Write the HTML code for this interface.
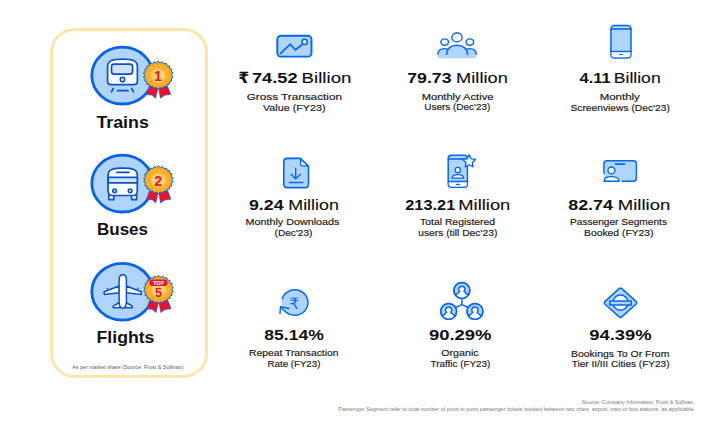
<!DOCTYPE html>
<html><head><meta charset="utf-8">
<style>
*{margin:0;padding:0}
html,body{width:719px;height:426px;background:#fff;overflow:hidden}
svg{position:absolute;left:0;top:0;display:block}
</style></head><body>
<svg width="719" height="426" viewBox="0 0 719 426">
<defs><radialGradient id="rg" cx="0.5" cy="0.5" r="0.5"><stop offset="0.55" stop-color="#ffb92c"/><stop offset="1" stop-color="#f9a213"/></radialGradient></defs>
<rect x="51.5" y="29.5" width="155" height="347" rx="23" fill="none" stroke="#fde4ad" stroke-width="3"/>
<ellipse cx="122.4" cy="75.6" rx="30.6" ry="28.4" fill="#afd5ff" stroke="#0862e8" stroke-width="2.8"/>
<ellipse cx="122.4" cy="183.6" rx="30.6" ry="28.4" fill="#afd5ff" stroke="#0862e8" stroke-width="2.8"/>
<ellipse cx="122.4" cy="291.7" rx="30.6" ry="28.4" fill="#afd5ff" stroke="#0862e8" stroke-width="2.8"/>
<g fill="none" stroke="#0a52c6" stroke-width="1.7" stroke-linecap="round" stroke-linejoin="round">
<path d="M107.6,81.6 L107.6,66.5 C107.6,60.5 113,59.1 122.5,59.1 C132,59.1 137.4,60.5 137.4,66.5 L137.4,81.6 Q137.4,84.6 134.4,84.6 L110.6,84.6 Q107.6,84.6 107.6,81.6 Z" fill="#fff"/>
<rect x="111.5" y="64.1" width="21.1" height="10.1" rx="2.6" fill="#d3e2fb"/>
<circle cx="122.5" cy="79.6" r="2.2" fill="#fff"/>
<path d="M113.3,88.4 L111.5,91.8 M117.5,90.7 L128,90.7 M131.6,88.4 L133.4,91.8"/>
</g>
<g fill="none" stroke="#0a52c6" stroke-width="1.7" stroke-linecap="round" stroke-linejoin="round">
<path d="M108.8,194.5 L113.8,194.5 L113.8,199.6 L108.8,199.6 Z M131.6,194.5 L136.6,194.5 L136.6,199.6 L131.6,199.6 Z" fill="#fff"/>
<path d="M108.1,191 L108.1,175 C108.1,169.6 113,168.1 122.7,168.1 C132.4,168.1 137.3,169.6 137.3,175 L137.3,191 C137.3,193.8 135.8,195.5 133,195.5 L112.4,195.5 C109.6,195.5 108.1,193.8 108.1,191 Z" fill="#fff"/>
<rect x="108.1" y="177.3" width="29.2" height="5.5" fill="#d3e2fb"/>
<path d="M116.8,172.4 L128.9,172.4"/>
<circle cx="114.6" cy="190.8" r="1.8" fill="#fff"/>
<circle cx="130.1" cy="190.8" r="1.8" fill="#fff"/>
</g>
<g fill="#fff" stroke="#0a52c6" stroke-width="1.5" stroke-linejoin="round">
<path d="M119.2,286 L104.2,291.8 L104.2,294.4 L119.2,292.8 Z M126.3,286 L141.3,291.8 L141.3,294.4 L126.3,292.8 Z"/>
<path d="M119.5,302.5 L113.2,306.2 L113.2,307.8 L120.5,307.8 Z M126,302.5 L132.3,306.2 L132.3,307.8 L125,307.8 Z"/>
<path d="M122.75,274.8 C125,274.8 126.4,277 126.4,280 L126.4,302 C126.4,305.5 124.5,307.8 122.75,308.6 C121,307.8 119.1,305.5 119.1,302 L119.1,280 C119.1,277 120.5,274.8 122.75,274.8 Z"/>
<path d="M107.5,289.2 L107.5,287.8 M137.9,289.2 L137.9,287.8" fill="none"/>
</g>
<path d="M149.40,85.80 L158.00,88.40 L155.60,98.30 L152.20,95.20 L146.20,94.50Z" fill="#e8132e" stroke="#0566ee" stroke-width="0.6" stroke-linejoin="round"/>
<path d="M158.60,88.40 L167.40,85.80 L170.80,94.50 L164.80,95.20 L160.40,98.30Z" fill="#e8132e" stroke="#0566ee" stroke-width="0.6" stroke-linejoin="round"/>
<path d="M158.20,61.20 L160.11,62.81 L162.43,61.76 L163.77,63.80 L166.31,63.41 L166.98,65.72 L169.54,66.00 L169.47,68.39 L171.84,69.33 L171.06,71.60 L173.05,73.12 L171.60,75.10 L173.05,77.08 L171.06,78.60 L171.84,80.87 L169.47,81.81 L169.54,84.20 L166.98,84.48 L166.31,86.79 L163.77,86.40 L162.43,88.44 L160.11,87.39 L158.20,89.00 L156.29,87.39 L153.97,88.44 L152.63,86.40 L150.09,86.79 L149.42,84.48 L146.86,84.20 L146.93,81.81 L144.56,80.87 L145.34,78.60 L143.35,77.08 L144.80,75.10 L143.35,73.12 L145.34,71.60 L144.56,69.33 L146.93,68.39 L146.86,66.00 L149.42,65.72 L150.09,63.41 L152.63,63.80 L153.97,61.76 L156.29,62.81Z" fill="url(#rg)" stroke="#0566ee" stroke-width="1.0" stroke-linejoin="round"/>
<ellipse cx="157.79999999999998" cy="75.6" rx="7.9" ry="7.8" fill="#fecd68" stroke="#f7a83c" stroke-width="1.5"/>
<path d="M163.39999999999998,69.89999999999999 A7.4,7.3 0 0 1 152.89999999999998,80.89999999999999 Z" fill="#ffd77a" opacity="0.6"/>
<text x="157.89999999999998" y="81.3" text-anchor="middle" font-family="'Liberation Sans',sans-serif" font-weight="700" font-size="14.2" fill="#db1a3a">1</text>
<path d="M149.60,190.50 L158.20,193.10 L155.80,203.00 L152.40,199.90 L146.40,199.20Z" fill="#e8132e" stroke="#0566ee" stroke-width="0.6" stroke-linejoin="round"/>
<path d="M158.80,193.10 L167.60,190.50 L171.00,199.20 L165.00,199.90 L160.60,203.00Z" fill="#e8132e" stroke="#0566ee" stroke-width="0.6" stroke-linejoin="round"/>
<path d="M158.40,165.90 L160.31,167.51 L162.63,166.46 L163.97,168.50 L166.51,168.11 L167.18,170.42 L169.74,170.70 L169.67,173.09 L172.04,174.03 L171.26,176.30 L173.25,177.82 L171.80,179.80 L173.25,181.78 L171.26,183.30 L172.04,185.57 L169.67,186.51 L169.74,188.90 L167.18,189.18 L166.51,191.49 L163.97,191.10 L162.63,193.14 L160.31,192.09 L158.40,193.70 L156.49,192.09 L154.17,193.14 L152.83,191.10 L150.29,191.49 L149.62,189.18 L147.06,188.90 L147.13,186.51 L144.76,185.57 L145.54,183.30 L143.55,181.78 L145.00,179.80 L143.55,177.82 L145.54,176.30 L144.76,174.03 L147.13,173.09 L147.06,170.70 L149.62,170.42 L150.29,168.11 L152.83,168.50 L154.17,166.46 L156.49,167.51Z" fill="url(#rg)" stroke="#0566ee" stroke-width="1.0" stroke-linejoin="round"/>
<ellipse cx="158.0" cy="180.3" rx="7.9" ry="7.8" fill="#fecd68" stroke="#f7a83c" stroke-width="1.5"/>
<path d="M163.6,174.60000000000002 A7.4,7.3 0 0 1 153.1,185.60000000000002 Z" fill="#ffd77a" opacity="0.6"/>
<text x="158.1" y="186.0" text-anchor="middle" font-family="'Liberation Sans',sans-serif" font-weight="700" font-size="14.2" fill="#db1a3a">2</text>
<path d="M149.80,300.10 L158.40,302.70 L156.00,312.60 L152.60,309.50 L146.60,308.80Z" fill="#e8132e" stroke="#0566ee" stroke-width="0.6" stroke-linejoin="round"/>
<path d="M159.00,302.70 L167.80,300.10 L171.20,308.80 L165.20,309.50 L160.80,312.60Z" fill="#e8132e" stroke="#0566ee" stroke-width="0.6" stroke-linejoin="round"/>
<path d="M158.60,275.50 L160.51,277.11 L162.83,276.06 L164.17,278.10 L166.71,277.71 L167.38,280.02 L169.94,280.30 L169.87,282.69 L172.24,283.63 L171.46,285.90 L173.45,287.42 L172.00,289.40 L173.45,291.38 L171.46,292.90 L172.24,295.17 L169.87,296.11 L169.94,298.50 L167.38,298.78 L166.71,301.09 L164.17,300.70 L162.83,302.74 L160.51,301.69 L158.60,303.30 L156.69,301.69 L154.37,302.74 L153.03,300.70 L150.49,301.09 L149.82,298.78 L147.26,298.50 L147.33,296.11 L144.96,295.17 L145.74,292.90 L143.75,291.38 L145.20,289.40 L143.75,287.42 L145.74,285.90 L144.96,283.63 L147.33,282.69 L147.26,280.30 L149.82,280.02 L150.49,277.71 L153.03,278.10 L154.37,276.06 L156.69,277.11Z" fill="url(#rg)" stroke="#0566ee" stroke-width="1.0" stroke-linejoin="round"/>
<ellipse cx="158.2" cy="289.9" rx="7.9" ry="7.8" fill="#fecd68" stroke="#f7a83c" stroke-width="1.5"/>
<path d="M163.79999999999998,284.2 A7.4,7.3 0 0 1 153.29999999999998,295.2 Z" fill="#ffd77a" opacity="0.6"/>
<rect x="149.4" y="279.5" width="18" height="6.4" rx="3.2" fill="#e2162f"/>
<text x="158.6" y="284.7" text-anchor="middle" font-family="'Liberation Sans',sans-serif" font-weight="700" font-size="5.4" fill="#fff">TOP</text>
<text x="158.6" y="297.09999999999997" text-anchor="middle" font-family="'Liberation Sans',sans-serif" font-weight="700" font-size="12.5" fill="#e2162f">5</text>
<g fill="none" stroke="#0566ee" stroke-width="1.9" stroke-linecap="round" stroke-linejoin="round">
<rect x="277.3" y="35.8" width="34.2" height="20.8" rx="3.5" fill="#afd5ff"/>
<path d="M280.6,53.4 L290.4,44.2 L295.4,50 L301.7,44.9" stroke-width="1.7"/>
<circle cx="304.6" cy="41.9" r="2.6" fill="#fff" stroke-width="1.6"/>
</g>
<g fill="none" stroke="#0566ee" stroke-width="1.45" stroke-linecap="round">
<path d="M446.6,54.6 C446.6,48.5 451,45.3 457,45.3 C463,45.3 467.6,48.5 467.6,54.6 L467.6,58.3 L446.6,58.3 Z" fill="#afd5ff" stroke="none"/>
<path d="M437.8,54.3 C438,50.8 440.6,48.6 444.4,48.6 C446.5,48.6 448.2,49.3 449.5,50.5 L447,58.3 L439,58.3 Q437.8,58.3 437.8,57 Z" fill="#afd5ff" stroke="none"/>
<path d="M476.2,54.3 C476,50.8 473.4,48.6 469.6,48.6 C467.5,48.6 465.8,49.3 464.5,50.5 L467,58.3 L475,58.3 Q476.2,58.3 476.2,57 Z" fill="#afd5ff" stroke="none"/>
<path d="M446.6,54.6 C446.6,48.5 451,45.3 457,45.3 C463,45.3 467.6,48.5 467.6,54.6"/>
<path d="M437.8,54.3 C438,50.8 440.6,48.6 444.4,48.6 C445.8,48.6 447,48.9 448,49.4"/>
<path d="M476.2,54.3 C476,50.8 473.4,48.6 469.6,48.6 C468.2,48.6 467,48.9 466,49.4"/>
<ellipse cx="457" cy="37.4" rx="5.1" ry="4.4"/>
<ellipse cx="444.7" cy="42.1" rx="3.8" ry="3.25"/>
<ellipse cx="469.85" cy="42.1" rx="3.8" ry="3.25"/>
</g>
<g fill="none" stroke="#0566ee" stroke-width="1.5" stroke-linecap="round" stroke-linejoin="round">
<rect x="610.9" y="25.5" width="20.1" height="32.4" rx="3.5" fill="#afd5ff"/>
<path d="M611.5,51.4 L630.4,51.4 L630.4,54.5 Q630.4,57.2 627.6,57.2 L614.3,57.2 Q611.5,57.2 611.5,54.5 Z" fill="#fff" stroke="none"/>
<path d="M610.9,29.1 L631,29.1 M610.9,51.4 L631,51.4"/>
<path d="M619.5,54.5 L622.5,54.5" stroke-width="1.2"/>
</g>
<g fill="none" stroke="#0566ee" stroke-width="1.6" stroke-linecap="round" stroke-linejoin="round">
<path d="M287,158.4 L300.3,158.4 L308.5,166.4 L308.5,184.2 Q308.5,187.6 305.1,187.6 L287.2,187.6 Q283.8,187.6 283.8,184.2 L283.8,161.8 Q283.8,158.4 287,158.4 Z" fill="#afd5ff"/>
<path d="M300.6,159 L300.6,164.2 Q300.6,165.8 302.2,165.8 L307.9,165.8 Z" fill="#fff" stroke-width="1.3"/>
<path d="M295.7,168.3 L295.7,178.8 M291,174.2 L295.7,178.8 L300.5,174.2 M289.3,182.5 L303,182.5" stroke-width="1.4"/>
</g>
<g fill="none" stroke="#0566ee" stroke-width="1.5" stroke-linecap="round" stroke-linejoin="round">
<rect x="448.2" y="155.2" width="19.2" height="32" rx="3.3" fill="#afd5ff"/>
<path d="M448.8,181.4 L466.8,181.4 L466.8,184 Q466.8,186.5 464.2,186.5 L451.4,186.5 Q448.8,186.5 448.8,184 Z" fill="#fff" stroke="none"/>
<path d="M448.2,159.1 L467.4,159.1 M448.2,181.4 L467.4,181.4"/>
<path d="M456.4,184.4 L459.6,184.4" stroke-width="1.2"/>
<path d="M452.1,178.1 C452.1,175.8 454.6,174.7 457.8,174.7 C461,174.7 463.6,175.8 463.6,178.1 Z" fill="#fff" stroke-width="1.3"/>
<circle cx="457.8" cy="170.1" r="2.7" fill="#fff" stroke-width="1.3"/>
<path d="M469.20,154.80 L471.14,158.83 L475.57,159.43 L472.34,162.52 L473.14,166.92 L469.20,164.80 L465.26,166.92 L466.06,162.52 L462.83,159.43 L467.26,158.83Z" fill="#fff" stroke-width="1.3"/>
</g>
<g fill="none" stroke="#0566ee" stroke-width="1.45" stroke-linecap="round" stroke-linejoin="round">
<rect x="603.9" y="160.7" width="32.5" height="20.6" rx="3" fill="#afd5ff" stroke="none"/>
<path d="M603.9,173.2 L603.9,163.7 Q603.9,160.7 606.9,160.7 L633.4,160.7 Q636.4,160.7 636.4,163.7 L636.4,178.3 Q636.4,181.3 633.4,181.3 L622.2,181.3"/>
<path d="M615.6,164.1 L624.6,164.1" stroke-width="1.6"/>
<path d="M604.1,181.2 C604.1,178.3 607.2,176.6 611.4,176.6 C615.6,176.6 619,178.3 619,181.2 Z" fill="#fff"/>
<circle cx="611.4" cy="170.4" r="3.4" fill="#fff"/>
</g>
<g fill="none" stroke="#0566ee" stroke-width="1.5" stroke-linecap="round" stroke-linejoin="round">
<ellipse cx="294.75" cy="302.6" rx="13.2" ry="12.7" fill="#afd5ff" stroke="none"/>
<path d="M282.13,298.89 A13.2,12.7 0 1 1 286.27,312.33 Q283,310.3 280.6,306.7"/>
<path d="M279.95,313.6 L280.6,306.7 L289.1,308.4"/>
</g>
<text x="294.1" y="308.6" text-anchor="middle" font-family="'DejaVu Sans',sans-serif" font-size="15.6" fill="#0566ee">₹</text>
<g stroke="#0566ee" stroke-width="1.45" stroke-linecap="round" stroke-linejoin="round">
<path d="M461.9,298.5 L461.9,304.6 L455.6,307.5 M461.9,304.6 L468.2,307.5" fill="none"/>
<clipPath id="c461290"><circle cx="461.85" cy="290.45" r="7.95"/></clipPath>
<circle cx="461.85" cy="290.45" r="7.95" fill="#afd5ff"/>
<path clip-path="url(#c461290)" d="M459.75,291.35 C458.15,290.15 458.25,286.15 461.85,286.15 C465.45,286.15 465.55,290.15 463.95,291.35 L468.45,295.65 L468.45,299.45 L455.25,299.45 L455.25,295.65 Z" fill="#fff"/>
<circle cx="461.85" cy="290.45" r="7.95" fill="none"/>
<clipPath id="c448311"><circle cx="448.65" cy="311.35" r="7.95"/></clipPath>
<circle cx="448.65" cy="311.35" r="7.95" fill="#afd5ff"/>
<path clip-path="url(#c448311)" d="M446.55,312.25 C444.95,311.05 445.05,307.05 448.65,307.05 C452.25,307.05 452.35,311.05 450.75,312.25 L455.25,316.55 L455.25,320.35 L442.05,320.35 L442.05,316.55 Z" fill="#fff"/>
<circle cx="448.65" cy="311.35" r="7.95" fill="none"/>
<clipPath id="c474311"><circle cx="474.95" cy="311.35" r="7.95"/></clipPath>
<circle cx="474.95" cy="311.35" r="7.95" fill="#afd5ff"/>
<path clip-path="url(#c474311)" d="M472.85,312.25 C471.25,311.05 471.35,307.05 474.95,307.05 C478.55,307.05 478.65,311.05 477.05,312.25 L481.55,316.55 L481.55,320.35 L468.35,320.35 L468.35,316.55 Z" fill="#fff"/>
<circle cx="474.95" cy="311.35" r="7.95" fill="none"/>
</g>
<g stroke="#0566ee" stroke-width="1.5" stroke-linejoin="round">
<path d="M619.2,288.6 Q620.5,287.6 621.8,288.6 L636.2,301.6 Q637.3,302.8 636.2,304 L621.8,316.9 Q620.5,318 619.2,316.9 L604.8,304 Q603.7,302.8 604.8,301.6 Z" fill="#afd5ff"/>
<circle cx="620.5" cy="302.6" r="7.6" fill="#fff"/>
<rect x="609.8" y="300.9" width="21.4" height="4" fill="#afd5ff"/>
</g>
<text x="238.21" y="83.40" font-family='"DejaVu Sans","Liberation Sans",sans-serif' font-weight="700" font-size="15.5" fill="#111" textLength="11.02" lengthAdjust="spacingAndGlyphs">₹</text>
<text x="251.97" y="83.40" font-family='"Liberation Sans",Arial,sans-serif' font-weight="700" font-size="15.5" fill="#111" textLength="45.59" lengthAdjust="spacingAndGlyphs">74.52</text>
<text x="301.61" y="83.40" font-family='"Liberation Sans",Arial,sans-serif' font-weight="400" font-size="15.5" fill="#111" stroke="#111" stroke-width="0.15" textLength="49.84" lengthAdjust="spacingAndGlyphs">Billion</text>
<text x="407.29" y="83.40" font-family='"Liberation Sans",Arial,sans-serif' font-weight="700" font-size="15.5" fill="#111" textLength="44.25" lengthAdjust="spacingAndGlyphs">79.73</text>
<text x="456.14" y="83.40" font-family='"Liberation Sans",Arial,sans-serif' font-weight="400" font-size="15.5" fill="#111" stroke="#111" stroke-width="0.15" textLength="51.68" lengthAdjust="spacingAndGlyphs">Million</text>
<text x="579.54" y="83.20" font-family='"Liberation Sans",Arial,sans-serif' font-weight="700" font-size="15.5" fill="#111" textLength="31.20" lengthAdjust="spacingAndGlyphs">4.11</text>
<text x="613.79" y="83.20" font-family='"Liberation Sans",Arial,sans-serif' font-weight="400" font-size="15.5" fill="#111" stroke="#111" stroke-width="0.15" textLength="46.89" lengthAdjust="spacingAndGlyphs">Billion</text>
<text x="248.97" y="210.10" font-family='"Liberation Sans",Arial,sans-serif' font-weight="700" font-size="15.5" fill="#111" textLength="34.56" lengthAdjust="spacingAndGlyphs">9.24</text>
<text x="288.27" y="210.10" font-family='"Liberation Sans",Arial,sans-serif' font-weight="400" font-size="15.5" fill="#111" stroke="#111" stroke-width="0.15" textLength="50.63" lengthAdjust="spacingAndGlyphs">Million</text>
<text x="405.31" y="210.20" font-family='"Liberation Sans",Arial,sans-serif' font-weight="700" font-size="15.5" fill="#111" textLength="49.92" lengthAdjust="spacingAndGlyphs">213.21</text>
<text x="458.33" y="210.20" font-family='"Liberation Sans",Arial,sans-serif' font-weight="400" font-size="15.5" fill="#111" stroke="#111" stroke-width="0.15" textLength="52.00" lengthAdjust="spacingAndGlyphs">Million</text>
<text x="568.16" y="210.20" font-family='"Liberation Sans",Arial,sans-serif' font-weight="700" font-size="15.5" fill="#111" textLength="44.87" lengthAdjust="spacingAndGlyphs">82.74</text>
<text x="617.82" y="210.20" font-family='"Liberation Sans",Arial,sans-serif' font-weight="400" font-size="15.5" fill="#111" stroke="#111" stroke-width="0.15" textLength="52.52" lengthAdjust="spacingAndGlyphs">Million</text>
<text x="264.27" y="339.80" font-family='"Liberation Sans",Arial,sans-serif' font-weight="700" font-size="15.5" fill="#111" textLength="59.46" lengthAdjust="spacingAndGlyphs">85.14%</text>
<text x="428.95" y="340.20" font-family='"Liberation Sans",Arial,sans-serif' font-weight="700" font-size="15.5" fill="#111" textLength="62.61" lengthAdjust="spacingAndGlyphs">90.29%</text>
<text x="589.25" y="339.80" font-family='"Liberation Sans",Arial,sans-serif' font-weight="700" font-size="15.5" fill="#111" textLength="62.30" lengthAdjust="spacingAndGlyphs">94.39%</text>
<text x="246.71" y="99.90" font-family='"Liberation Sans",Arial,sans-serif' font-weight="400" font-size="9.8" fill="#1a1a1a" stroke="#1a1a1a" stroke-width="0.18" textLength="95.24" lengthAdjust="spacingAndGlyphs">Gross Transaction</text>
<text x="263.00" y="110.60" font-family='"Liberation Sans",Arial,sans-serif' font-weight="400" font-size="9.8" fill="#1a1a1a" stroke="#1a1a1a" stroke-width="0.18" textLength="62.47" lengthAdjust="spacingAndGlyphs">Value (FY23)</text>
<text x="421.72" y="99.60" font-family='"Liberation Sans",Arial,sans-serif' font-weight="400" font-size="9.8" fill="#1a1a1a" stroke="#1a1a1a" stroke-width="0.18" textLength="71.68" lengthAdjust="spacingAndGlyphs">Monthly Active</text>
<text x="424.20" y="110.30" font-family='"Liberation Sans",Arial,sans-serif' font-weight="400" font-size="9.8" fill="#1a1a1a" stroke="#1a1a1a" stroke-width="0.18" textLength="66.23" lengthAdjust="spacingAndGlyphs">Users (Dec&#x27;23)</text>
<text x="599.68" y="99.70" font-family='"Liberation Sans",Arial,sans-serif' font-weight="400" font-size="9.8" fill="#1a1a1a" stroke="#1a1a1a" stroke-width="0.18" textLength="40.12" lengthAdjust="spacingAndGlyphs">Monthly</text>
<text x="570.49" y="110.50" font-family='"Liberation Sans",Arial,sans-serif' font-weight="400" font-size="9.8" fill="#1a1a1a" stroke="#1a1a1a" stroke-width="0.18" textLength="99.35" lengthAdjust="spacingAndGlyphs">Screenviews (Dec&#x27;23)</text>
<text x="245.54" y="225.00" font-family='"Liberation Sans",Arial,sans-serif' font-weight="400" font-size="9.8" fill="#1a1a1a" stroke="#1a1a1a" stroke-width="0.18" textLength="93.88" lengthAdjust="spacingAndGlyphs">Monthly Downloads</text>
<text x="274.59" y="235.70" font-family='"Liberation Sans",Arial,sans-serif' font-weight="400" font-size="9.8" fill="#1a1a1a" stroke="#1a1a1a" stroke-width="0.18" textLength="37.84" lengthAdjust="spacingAndGlyphs">(Dec&#x27;23)</text>
<text x="420.09" y="225.00" font-family='"Liberation Sans",Arial,sans-serif' font-weight="400" font-size="9.8" fill="#1a1a1a" stroke="#1a1a1a" stroke-width="0.18" textLength="74.99" lengthAdjust="spacingAndGlyphs">Total Registered</text>
<text x="418.18" y="236.00" font-family='"Liberation Sans",Arial,sans-serif' font-weight="400" font-size="9.8" fill="#1a1a1a" stroke="#1a1a1a" stroke-width="0.18" textLength="79.16" lengthAdjust="spacingAndGlyphs">users (till Dec&#x27;23)</text>
<text x="569.99" y="225.00" font-family='"Liberation Sans",Arial,sans-serif' font-weight="400" font-size="9.8" fill="#1a1a1a" stroke="#1a1a1a" stroke-width="0.18" textLength="97.02" lengthAdjust="spacingAndGlyphs">Passenger Segments</text>
<text x="584.07" y="235.70" font-family='"Liberation Sans",Arial,sans-serif' font-weight="400" font-size="9.8" fill="#1a1a1a" stroke="#1a1a1a" stroke-width="0.18" textLength="69.47" lengthAdjust="spacingAndGlyphs">Booked (FY23)</text>
<text x="249.08" y="356.10" font-family='"Liberation Sans",Arial,sans-serif' font-weight="400" font-size="9.8" fill="#1a1a1a" stroke="#1a1a1a" stroke-width="0.18" textLength="89.40" lengthAdjust="spacingAndGlyphs">Repeat Transaction</text>
<text x="267.52" y="366.80" font-family='"Liberation Sans",Arial,sans-serif' font-weight="400" font-size="9.8" fill="#1a1a1a" stroke="#1a1a1a" stroke-width="0.18" textLength="52.89" lengthAdjust="spacingAndGlyphs">Rate (FY23)</text>
<text x="441.27" y="355.80" font-family='"Liberation Sans",Arial,sans-serif' font-weight="400" font-size="9.8" fill="#1a1a1a" stroke="#1a1a1a" stroke-width="0.18" textLength="37.34" lengthAdjust="spacingAndGlyphs">Organic</text>
<text x="430.50" y="366.80" font-family='"Liberation Sans",Arial,sans-serif' font-weight="400" font-size="9.8" fill="#1a1a1a" stroke="#1a1a1a" stroke-width="0.18" textLength="59.92" lengthAdjust="spacingAndGlyphs">Traffic (FY23)</text>
<text x="571.07" y="356.50" font-family='"Liberation Sans",Arial,sans-serif' font-weight="400" font-size="9.8" fill="#1a1a1a" stroke="#1a1a1a" stroke-width="0.18" textLength="98.29" lengthAdjust="spacingAndGlyphs">Bookings To Or From</text>
<text x="571.70" y="367.20" font-family='"Liberation Sans",Arial,sans-serif' font-weight="400" font-size="9.8" fill="#1a1a1a" stroke="#1a1a1a" stroke-width="0.18" textLength="97.83" lengthAdjust="spacingAndGlyphs">Tier II/III Cities (FY23)</text>
<text x="96.42" y="127.50" font-family='"Liberation Sans",Arial,sans-serif' font-weight="700" font-size="17" fill="#111" textLength="52.42" lengthAdjust="spacingAndGlyphs">Trains</text>
<text x="96.98" y="234.50" font-family='"Liberation Sans",Arial,sans-serif' font-weight="700" font-size="17" fill="#111" textLength="51.03" lengthAdjust="spacingAndGlyphs">Buses</text>
<text x="96.54" y="342.90" font-family='"Liberation Sans",Arial,sans-serif' font-weight="700" font-size="17" fill="#111" textLength="57.90" lengthAdjust="spacingAndGlyphs">Flights</text>
<text x="72.20" y="368.60" font-family='"Liberation Sans",Arial,sans-serif' font-weight="400" font-size="5.6" fill="#5c5c5c" textLength="111.29" lengthAdjust="spacingAndGlyphs">As per market share (Source: Frost &amp; Sullivan)</text>
<text x="581.79" y="404.20" font-family='"Liberation Sans",Arial,sans-serif' font-weight="400" font-size="5.6" fill="#7a7a7a" textLength="113.29" lengthAdjust="spacingAndGlyphs">Source: Company Information, Frost &amp; Sullivan.</text>
<text x="338.26" y="410.60" font-family='"Liberation Sans",Arial,sans-serif' font-weight="400" font-size="5.6" fill="#7a7a7a" textLength="356.82" lengthAdjust="spacingAndGlyphs">Passenger Segment refer to total number of point to point passenger tickets booked between two cities, airport, train or bus stations, as applicable.</text>
</svg>
</body></html>
